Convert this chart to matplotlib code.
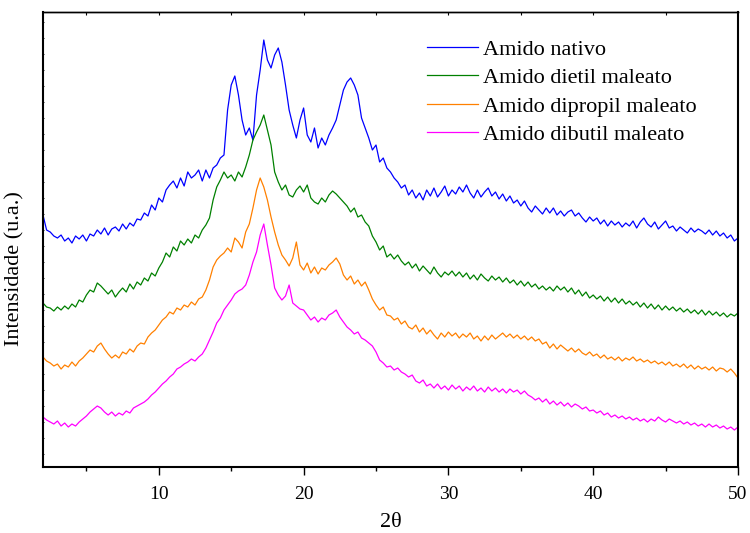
import matplotlib
matplotlib.use("Agg")
import matplotlib.pyplot as plt
from matplotlib.ticker import MultipleLocator, NullFormatter
import numpy as np

plt.rcParams['font.family'] = ['Liberation Serif', 'DejaVu Serif']

# 2-theta grid, 0.25 deg steps from 2 to 50
two_theta = np.arange(2.0, 50.001, 0.25)

# intensities (stacked, arbitrary units), two degrees per row
nativo = [
    255, 240, 238, 234, 232, 235, 229, 232,
    227, 234, 231, 235, 229, 236, 234, 240,
    236, 242, 235, 241, 243, 239, 246, 241,
    247, 244, 251, 250, 257, 254, 265, 260,
    272, 268, 280, 285, 289, 282, 292, 284,
    298, 292, 295, 300, 289, 300, 292, 302,
    305, 312, 315, 360, 385, 394, 375, 350,
    335, 342, 330, 375, 400, 430, 410, 402,
    415, 422, 408, 385, 360, 345, 332, 350,
    362, 335, 328, 342, 322, 332, 325, 335,
    342, 350, 365, 380, 388, 392, 385, 375,
    352, 342, 332, 320, 325, 308, 312, 302,
    298, 292, 288, 282, 285, 275, 280, 272,
    277, 270, 280, 274, 282, 273, 278, 284,
    274, 280, 276, 283, 278, 285, 277, 272,
    280, 273, 278, 282, 274, 278, 271, 276,
    269, 274, 267, 270, 264, 269, 262, 258,
    264, 260, 256, 262, 257, 262, 255, 259,
    254, 258, 260, 254, 257, 252, 248, 253,
    249, 252, 246, 250, 244, 249, 245, 248,
    243, 247, 244, 249, 242, 248, 252, 246,
    243, 248, 241, 245, 249, 242, 244, 239,
    243, 240, 237, 242, 238, 241, 239, 236,
    240, 235, 239, 234, 237, 232, 235, 229,
    232,
]

dietil = [
    167, 163, 162, 159, 163, 160, 164, 161,
    166, 163, 170, 168, 175, 180, 178, 187,
    184, 180, 176, 180, 173, 178, 182, 178,
    186, 181, 188, 185, 192, 189, 197, 194,
    202, 208, 217, 213, 223, 219, 229, 225,
    231, 227, 235, 232, 240, 245, 252, 270,
    283, 290, 298, 292, 295, 289, 298, 293,
    303, 315, 330, 338, 345, 355, 340, 325,
    298, 288, 280, 285, 275, 273, 280, 284,
    278, 285, 272, 268, 266, 272, 268, 275,
    279, 276, 272, 268, 264, 258, 262, 253,
    255, 248, 244, 234, 228, 220, 224, 213,
    216, 211, 215, 209, 205, 208, 202, 206,
    199, 204, 200, 196, 203, 197, 193, 198,
    195, 199, 194, 198, 193, 197, 191, 195,
    190, 196, 192, 189, 194, 190, 193, 188,
    192, 187, 190, 185, 189, 184, 188, 183,
    186, 181, 184, 180, 183, 179, 184, 180,
    183, 178, 182, 176, 180, 174, 178, 172,
    175, 171, 174, 169, 173, 168, 172, 167,
    171, 166, 169, 165, 168, 163, 167, 162,
    166, 161, 165, 160, 164, 160, 163, 159,
    162, 158, 161, 157, 160, 156, 160, 155,
    159, 155, 158, 154, 157, 153, 156, 154,
    157,
]

dipropil = [
    113, 109, 107, 104, 106, 101, 105, 103,
    108, 104, 109, 112, 116, 120, 118, 124,
    127, 121, 116, 112, 115, 112, 118, 116,
    121, 118, 124, 127, 126, 133, 137, 140,
    145, 150, 153, 158, 156, 162, 160, 165,
    163, 168, 165, 171, 173, 180, 190, 203,
    210, 214, 217, 222, 218, 232, 228, 222,
    238, 246, 262, 280, 292, 283, 270, 253,
    238, 225, 215, 210, 204, 212, 228, 205,
    200, 207, 197, 203, 196, 202, 200, 205,
    208, 212, 206, 195, 190, 194, 186, 190,
    184, 188, 180, 171, 165, 160, 163, 155,
    154, 150, 152, 146, 149, 143, 141, 145,
    138, 142, 136, 140, 135, 131, 137, 133,
    138, 134, 137, 132, 136, 133, 137, 131,
    134, 129, 134, 130, 135, 131, 134, 137,
    133, 136, 132, 135, 131, 134, 130, 133,
    129, 131, 126, 128, 122, 126, 121, 125,
    122, 119, 122, 118, 121, 117, 115, 118,
    114, 116, 112, 115, 111, 113, 110, 113,
    109, 112, 110, 113, 109, 111, 108, 110,
    107, 109, 106, 108, 105, 108, 104, 106,
    103, 106, 102, 105, 101, 104, 101, 103,
    100, 103, 99, 102, 101, 98, 101, 97,
    92,
]

dibutil = [
    53, 50, 48, 46, 49, 44, 47, 43,
    46, 44, 48, 51, 54, 58, 61, 64,
    62, 58, 55, 58, 54, 57, 55, 59,
    57, 62, 64, 66, 68, 71, 75, 78,
    82, 86, 89, 93, 96, 101, 103, 106,
    108, 111, 109, 113, 116, 122, 130, 138,
    147, 152, 160, 165, 170, 176, 179, 181,
    185, 195, 208, 218, 235, 246, 225, 205,
    182, 175, 170, 174, 185, 167, 164, 161,
    160, 155, 150, 153, 148, 152, 150, 155,
    157, 160, 153, 148, 143, 140, 136, 138,
    132, 130, 127, 124, 118, 110, 107, 103,
    104, 100, 102, 98, 96, 93, 95, 89,
    87, 90, 84, 86, 82, 86, 81, 84,
    80, 85, 81, 84, 79, 83, 80, 84,
    79, 82, 78, 83, 79, 82, 78, 81,
    77, 81, 78, 80, 76, 79, 75, 73,
    70, 72, 68, 71, 66, 69, 65, 68,
    64, 67, 63, 66, 64, 61, 63, 59,
    60, 57, 59, 55, 57, 53, 55, 52,
    54, 51, 53, 50, 52, 49, 51, 48,
    51, 49, 53, 50, 48, 51, 49, 47,
    49, 46, 48, 45, 47, 44, 46, 43,
    46, 43, 45, 42, 44, 41, 43, 40,
    43,
]

labels = ["Amido nativo", "Amido dietil maleato",
          "Amido dipropil maleato", "Amido dibutil maleato"]
colors = ["#0000ff", "#008000", "#ff8000", "#ff00ff"]
series = [nativo, dietil, dipropil, dibutil]

fig = plt.figure(figsize=(7.5, 5.33), dpi=100)
ax = fig.add_axes([0.0573, 0.1238, 0.9267, 0.8537])

for ys, lab, col in zip(series, labels, colors):
    assert len(ys) == len(two_theta)
    ax.plot(two_theta, ys, color=col, lw=0.9, label=lab)

ax.set_xlim(2, 50)
ax.set_ylim(3, 458)

ax.xaxis.set_major_locator(MultipleLocator(10))
ax.xaxis.set_minor_locator(MultipleLocator(5))
ax.yaxis.set_major_locator(MultipleLocator(16))
ax.yaxis.set_major_formatter(NullFormatter())

ax.tick_params(axis='x', which='major', direction='out', length=6, width=1,
               labelsize=14, pad=8, top=False)
ax.tick_params(axis='x', which='minor', direction='out', length=3, width=1, top=False)
ax.tick_params(axis='y', which='major', direction='in', length=1.0, width=0.6,
               left=True, right=True)

# inward ticks along the top edge
sec = ax.secondary_xaxis('top')
sec.set_xticks(np.arange(5, 50, 5))
sec.tick_params(direction='in', length=2, width=0.8, labeltop=False)
sec.spines['top'].set_linewidth(1.0)

for side in ['left', 'bottom', 'right']:
    ax.spines[side].set_linewidth(1.5)
ax.spines['top'].set_linewidth(1.0)

ax.set_xlabel("2θ", fontsize=16, labelpad=7)
ax.set_ylabel("Intensidade (u.a.)", fontsize=16)
ax.yaxis.set_label_coords(-0.026, 0.437)

ax.legend(loc='upper left', bbox_to_anchor=(0.552, 0.94), frameon=False,
          fontsize=16, handlelength=2.3, handletextpad=0.23,
          labelspacing=0.35, borderpad=0, borderaxespad=0)

fig.savefig("out.png", dpi=100)
